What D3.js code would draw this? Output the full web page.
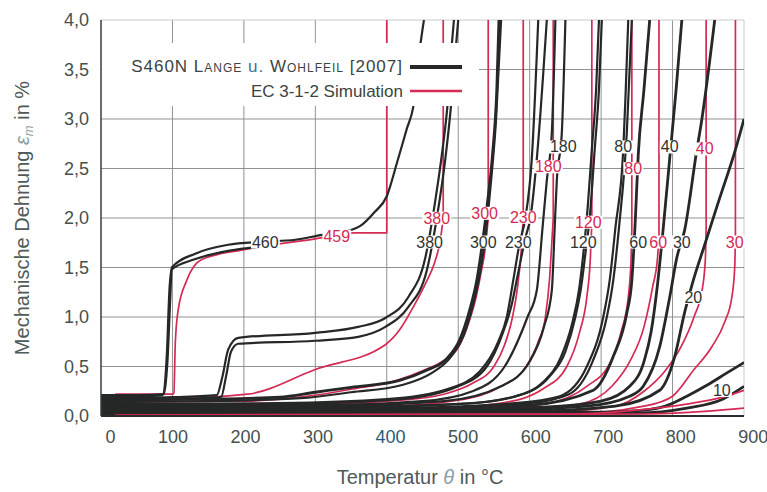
<!DOCTYPE html>
<html>
<head>
<meta charset="utf-8">
<script src="https://cdn.jsdelivr.net/npm/d3@7"></script>
<style>
body { margin: 0; background: #fff; }
text { font-family: "Liberation Sans", Arial, sans-serif; }
</style>
</head>
<body>
<svg width="767" height="492"></svg>
<script>
// tick values
var xTicks = [0, 100, 200, 300, 400, 500, 600, 700, 800, 900];
var yTicks = [0, 0.5, 1, 1.5, 2, 2.5, 3, 3.5, 4];

// experiments (Lange u. Wohlfeil) : [temperature, strain %]
var exp460a = [[0,0.21],[50,0.21],[88,0.22],[93,0.55],[97,1.2],[99,1.5],[132,1.64],[178,1.73],[225,1.76],[272,1.78],[310,1.83],[340,1.86],[365,1.93],[383,2.06],[400,2.22],[414,2.55],[428,2.9],[437,3.12],[447,3.75],[452,4.0]];
var exp460b = [[0,0.19],[60,0.2],[86,0.21],[92,0.6],[96,1.3],[99,1.48],[130,1.58],[180,1.67],[222,1.71]];
var exp380a = [[0,0.18],[100,0.19],[162,0.21],[170,0.4],[178,0.67],[192,0.79],[300,0.84],[360,0.9],[398,0.99],[430,1.2],[454,1.6],[468,2.18],[478,2.69],[485,3.14],[491,3.75],[494,4.0]];
var exp380b = [[0,0.16],[100,0.17],[168,0.19],[175,0.4],[182,0.65],[192,0.73],[300,0.76],[360,0.8],[398,0.9],[430,1.1],[456,1.47],[470,2.0],[482,2.6],[490,3.14],[497,3.75],[500,4.0]];
var exp300a = [[0,0.16],[150,0.17],[250,0.19],[300,0.24],[350,0.29],[418,0.36],[455,0.46],[484,0.58],[502,0.77],[516,1.07],[526,1.37],[533,1.7],[540,2.1],[548,2.64],[554,3.3],[557,4.0]];
var exp300b = [[0,0.14],[150,0.15],[280,0.18],[350,0.24],[420,0.31],[462,0.43],[490,0.6],[508,0.82],[520,1.1],[530,1.42],[537,1.75],[545,2.3],[553,3.0],[560,4.0]];
var exp230a = [[0,0.12],[250,0.13],[400,0.17],[484,0.27],[530,0.45],[556,0.75],[568,1.0],[577,1.37],[586,1.75],[594,2.0],[603,2.6],[612,4.0]];
var exp230b = [[0,0.11],[250,0.12],[420,0.17],[500,0.3],[540,0.5],[563,0.85],[574,1.1],[584,1.45],[594,1.8],[601,2.0],[610,2.6],[624,4.0]];
var exp180a = [[0,0.1],[300,0.11],[450,0.15],[520,0.25],[565,0.5],[597,1.0],[610,1.27],[618,1.9],[624,2.38],[631,2.86],[636,4.0]];
var exp180b = [[0,0.09],[300,0.1],[480,0.15],[560,0.3],[600,0.55],[620,0.9],[631,1.27],[635,1.9],[638,2.38],[645,2.86],[650,4.0]];
var exp120a = [[0,0.08],[300,0.09],[500,0.12],[580,0.2],[620,0.35],[644,0.6],[660,0.95],[669,1.27],[676,1.7],[680,2.0],[687,2.69],[693,3.3],[697,4.0]];
var exp120b = [[0,0.08],[350,0.09],[520,0.13],[590,0.22],[628,0.4],[650,0.65],[664,1.0],[672,1.3],[679,1.7],[684,2.0],[691,2.69],[697,3.3],[701,4.0]];
var exp80a = [[0,0.07],[400,0.08],[580,0.13],[642,0.2],[680,0.5],[703,1.0],[712,1.37],[720,1.9],[731,2.69],[734,3.2],[738,4.0]];
var exp80b = [[0,0.06],[400,0.07],[600,0.13],[655,0.22],[688,0.55],[708,1.0],[717,1.37],[725,1.9],[736,2.87],[743,4.0]];
var exp60 = [[0,0.06],[400,0.07],[600,0.11],[689,0.26],[717,0.6],[736,1.04],[743,1.37],[748,2.0],[752,2.64],[760,3.3],[768,4.0]];
var exp40 = [[0,0.05],[400,0.06],[620,0.09],[700,0.15],[740,0.3],[760,0.55],[770,0.85],[778,1.27],[787,1.9],[796,2.6],[805,3.3],[813,4.0]];
var exp30 = [[0,0.04],[500,0.05],[680,0.1],[740,0.2],[759,0.3],[782,0.7],[796,1.2],[806,1.6],[817,1.88],[834,2.69],[840,2.95],[859,4.0]];
var exp20 = [[0,0.03],[600,0.05],[720,0.1],[782,0.26],[803,0.6],[817,1.05],[829,1.37],[845,1.73],[865,2.18],[888,2.69],[900,3.0]];
var exp10a = [[0,0.02],[700,0.04],[760,0.06],[790,0.1],[820,0.2],[848,0.31],[875,0.43],[900,0.54]];
var exp10b = [[0,0.015],[750,0.03],[820,0.08],[870,0.17],[900,0.3]];

// EC 3-1-2 simulation (last point = vertical run-away at the critical temperature)
var sim459 = [[20,0.22],[100,0.22],[102,0.23],[104,0.74],[108,1.07],[120,1.37],[141,1.58],[200,1.68],[300,1.79],[355,1.85],[400,1.85],[400,4.0]];
var sim380 = [[20,0.18],[100,0.18],[205,0.22],[300,0.47],[398,0.72],[418,0.87],[437,1.1],[455,1.35],[467,1.55],[475,1.78],[479,2.0],[479,4.0]];
var sim300 = [[20,0.14],[200,0.15],[290,0.2],[350,0.27],[414,0.36],[451,0.46],[480,0.56],[500,0.69],[515,0.95],[525,1.2],[532,1.45],[538,1.7],[542,2.0],[542,4.0]];
var sim230 = [[20,0.11],[300,0.12],[420,0.16],[480,0.22],[520,0.33],[550,0.5],[565,0.72],[576,1.0],[583,1.3],[588,1.65],[591,2.0],[591,4.0]];
var sim180 = [[20,0.09],[400,0.1],[500,0.16],[560,0.3],[595,0.5],[612,0.75],[622,1.0],[628,1.4],[631,1.75],[633,2.0],[633,4.0]];
var sim120 = [[20,0.06],[450,0.07],[560,0.13],[620,0.28],[652,0.5],[670,0.85],[680,1.2],[685,1.6],[687,1.95],[687,4.0]];
var sim80 = [[20,0.04],[500,0.05],[620,0.12],[680,0.3],[712,0.53],[728,0.85],[738,1.2],[742,1.6],[743,1.9],[743,4.0]];
var sim60 = [[20,0.03],[550,0.04],[670,0.12],[715,0.3],[740,0.55],[760,0.9],[772,1.3],[779,1.6],[781,1.8],[781,4.0]];
var sim40 = [[20,0.02],[600,0.03],[720,0.1],[760,0.25],[790,0.46],[812,0.7],[830,1.0],[842,1.3],[846,1.6],[847,1.9],[847,4.0]];
var sim30 = [[20,0.015],[650,0.02],[760,0.1],[800,0.2],[829,0.46],[855,0.7],[873,0.95],[883,1.2],[887,1.5],[888,1.8],[888,4.0]];
var sim20 = [[20,0.01],[650,0.02],[750,0.06],[820,0.12],[870,0.19],[900,0.26]];
var sim10 = [[20,0.005],[750,0.02],[850,0.05],[900,0.08]];

// curve labels (stress in N/mm2) and where they sit on the curves
var expLabels = ["460","380","300","230","180","120","80","60","40","30","20","10"];
var expLabelAt = [[230,1.76],[460,1.76],[535,1.76],[584,1.76],[647,2.72],[675,1.76],[731,2.72],[752,1.76],[796,2.72],[813,1.76],[829,1.2],[869,0.26]];
var simLabels = ["459","380","300","230","180","120","80","60","40","30"];
var simLabelAt = [[330,1.82],[470,2.0],[537,2.05],[591,2.01],[626,2.52],[682,1.96],[745,2.5],[780,1.76],[845,2.7],[887,1.76]];

var expCurves = [exp460a, exp460b, exp380a, exp380b, exp300a, exp300b, exp230a, exp230b,
                 exp180a, exp180b, exp120a, exp120b, exp80a, exp80b, exp60, exp40, exp30, exp20, exp10a, exp10b];
var simCurves = [sim459, sim380, sim300, sim230, sim180, sim120, sim80, sim60, sim40, sim30];
var simLow = [sim20, sim10];

var red = "#d42a54";
var black = "#252827";

var drawChart = function()
{
  var svg = d3.select("svg");

  var x = d3.scaleLinear().domain([0, 900]).range([101, 744]);
  var y = d3.scaleLinear().domain([0, 4]).range([416, 20]);

  var comma = d3.formatLocale({decimal: ",", thousands: ".", grouping: [3], currency: ["", ""]}).format(".1f");

  svg.append("clipPath")
     .attr("id", "plot")
     .append("rect")
     .attr("x", x(0))
     .attr("y", y(4))
     .attr("width", x(900) - x(0))
     .attr("height", y(0) - y(4));

  /*grid*/
  var grid = svg.append("g");
  grid.selectAll(".vx")
      .data(xTicks.slice(1))
      .enter()
      .append("line")
      .attr("x1", function(d) { return x(d); })
      .attr("x2", function(d) { return x(d); })
      .attr("y1", y(0))
      .attr("y2", y(4))
      .attr("stroke", function(d) { return d == 900 ? "#c8cbc9" : "#8e9390"; })
      .attr("stroke-width", 1);
  grid.selectAll(".hy")
      .data(yTicks.slice(1))
      .enter()
      .append("line")
      .attr("x1", x(0))
      .attr("x2", x(900))
      .attr("y1", function(d) { return y(d); })
      .attr("y2", function(d) { return y(d); })
      .attr("stroke", function(d) { return d == 4 ? "#c8cbc9" : "#8e9390"; })
      .attr("stroke-width", 1);

  var smooth = d3.line()
                 .x(function(d) { return x(d[0]); })
                 .y(function(d) { return y(d[1]); })
                 .curve(d3.curveMonotoneX);
  var straight = d3.line()
                   .x(function(d) { return x(d[0]); })
                   .y(function(d) { return y(d[1]); });

  var curves = svg.append("g").attr("clip-path", "url(#plot)");

  /*simulation: smooth part + vertical run-away*/
  curves.selectAll(".sim")
        .data(simCurves)
        .enter()
        .append("path")
        .attr("d", function(d) { return smooth(d.slice(0, -1)) + straight(d.slice(-2)).replace("M", "L"); })
        .attr("fill", "none")
        .attr("stroke", red)
        .attr("stroke-width", 1.7)
        .attr("stroke-linejoin", "round");

  curves.selectAll(".exp")
        .data(expCurves)
        .enter()
        .append("path")
        .attr("d", smooth)
        .attr("fill", "none")
        .attr("stroke", black)
        .attr("stroke-width", function(d, i) { return (i == 4 || i >= 14) ? 2.8 : 2.2; })
        .attr("stroke-linejoin", "round");

  curves.selectAll(".low")
        .data(simLow)
        .enter()
        .append("path")
        .attr("d", smooth)
        .attr("fill", "none")
        .attr("stroke", red)
        .attr("stroke-width", 1.7);

  /*legend*/
  var legend = svg.append("g");
  legend.append("rect")
        .attr("x", x(0) + 1)
        .attr("y", 43)
        .attr("width", 377)
        .attr("height", 63)
        .attr("fill", "#fff");

  var t1 = legend.append("text")
                 .attr("x", 403)
                 .attr("y", 72)
                 .attr("text-anchor", "end")
                 .attr("font-size", 17)
                 .attr("letter-spacing", 1)
                 .attr("fill", "#3b4442");
  t1.append("tspan").text("S460N ");
  t1.append("tspan").style("font-variant", "small-caps").text("Lange ");
  t1.append("tspan").attr("fill", "#3f6f9e").text("u. ");
  t1.append("tspan").style("font-variant", "small-caps").text("Wohlfeil ");
  t1.append("tspan").text("[2007]");

  legend.append("text")
        .attr("x", 403)
        .attr("y", 97)
        .attr("text-anchor", "end")
        .attr("font-size", 17)
        .attr("fill", "#3b4442")
        .text("EC 3-1-2 Simulation");

  legend.append("line")
        .attr("x1", 410).attr("x2", 462)
        .attr("y1", 67).attr("y2", 67)
        .attr("stroke", black)
        .attr("stroke-width", 4);
  legend.append("line")
        .attr("x1", 410).attr("x2", 462)
        .attr("y1", 91).attr("y2", 91)
        .attr("stroke", red)
        .attr("stroke-width", 2.5);

  /*curve labels with white background*/
  var addLabel = function(txt, at, colour)
  {
    var g = svg.append("g");
    var bg = g.append("rect").attr("fill", "#fff");
    var t = g.append("text")
             .attr("x", x(at[0]))
             .attr("y", y(at[1]))
             .attr("dy", "0.36em")
             .attr("text-anchor", "middle")
             .attr("font-size", 16)
             .attr("fill", colour)
             .text(txt);
    var b = t.node().getBBox();
    bg.attr("x", b.x - 1)
      .attr("y", b.y + 2)
      .attr("width", b.width + 2)
      .attr("height", b.height - 4);
  };
  expLabels.forEach(function(d, i) { addLabel(d, expLabelAt[i], "#2e3332"); });
  simLabels.forEach(function(d, i) { addLabel(d, simLabelAt[i], red); });

  /*axes*/
  svg.append("line")
     .attr("x1", x(0)).attr("x2", x(0))
     .attr("y1", y(0)).attr("y2", y(4))
     .attr("stroke", "#3a3d3c")
     .attr("stroke-width", 1.5);
  svg.append("line")
     .attr("x1", x(0)).attr("x2", x(900))
     .attr("y1", y(0)).attr("y2", y(0))
     .attr("stroke", "#2a2d2c")
     .attr("stroke-width", 2);

  var xAxis = svg.append("g")
                 .attr("transform", "translate(0," + y(0) + ")")
                 .call(d3.axisBottom(x).tickValues(xTicks).tickSize(0).tickPadding(14));
  xAxis.select(".domain").remove();
  xAxis.selectAll("text")
       .attr("font-size", 18)
       .attr("font-family", "Liberation Sans, Arial, sans-serif")
       .attr("fill", function(d) { return d == 400 ? "#2b5b78" : "#46504e"; })
       .attr("dx", function(d) { return d == 0 ? 9 : (d - 100) / 100 * 1.1; });

  var yAxis = svg.append("g")
                 .attr("transform", "translate(" + x(0) + ",0)")
                 .call(d3.axisLeft(y).tickValues(yTicks).tickSize(0).tickPadding(12).tickFormat(comma));
  yAxis.select(".domain").remove();
  yAxis.selectAll("text")
       .attr("font-size", 18)
       .attr("font-family", "Liberation Sans, Arial, sans-serif")
       .attr("fill", "#46504e");

  /*axis titles*/
  var xt = svg.append("text")
              .attr("x", 420)
              .attr("y", 484)
              .attr("text-anchor", "middle")
              .attr("font-size", 20)
              .attr("fill", "#505a58");
  xt.append("tspan").text("Temperatur ");
  xt.append("tspan").attr("font-style", "italic").attr("fill", "#8d9ca3").text("θ");
  xt.append("tspan").text(" in °C");

  var yt = svg.append("text")
              .attr("transform", "translate(29,218) rotate(-90)")
              .attr("text-anchor", "middle")
              .attr("font-size", 20)
              .attr("fill", "#505a58");
  yt.append("tspan").text("Mechanische Dehnung ");
  yt.append("tspan").attr("font-style", "italic").attr("fill", "#8d9ca3").text("ε");
  yt.append("tspan").attr("font-style", "italic").attr("fill", "#8d9ca3").attr("font-size", 13).attr("dy", 4).text("m");
  yt.append("tspan").attr("dy", -4).text(" in %");
}

drawChart();
</script>
</body>
</html>
